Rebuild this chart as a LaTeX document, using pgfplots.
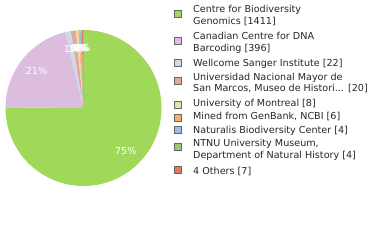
\documentclass[border=0pt]{standalone}
\usepackage{pgfplots}
\pgfplotsset{compat=1.18}
\usepackage{fontspec}
\setmainfont{DejaVu Sans}
\definecolor{c1}{HTML}{A0D95A}
\definecolor{c2}{HTML}{DCBDDF}
\definecolor{c3}{HTML}{CCDAE8}
\definecolor{c4}{HTML}{E3A89A}
\definecolor{c5}{HTML}{DCE8A6}
\definecolor{c6}{HTML}{F2B077}
\definecolor{c7}{HTML}{9DBDE3}
\definecolor{c8}{HTML}{9CC47A}
\definecolor{c9}{HTML}{E07A5F}
\newcommand{\lf}{\fontsize{9.6bp}{11bp}\selectfont}
\begin{document}
\begin{tikzpicture}
\path[use as bounding box] (0,0) rectangle (380bp,240bp);
\def\vals{1411,396,22,20,8,6,4,4,7}
\gdef\cum{0}
\foreach \v [count=\i] in \vals {
  \pgfmathsetmacro{\s}{90-\cum/1878*360}
  \pgfmathsetmacro{\newcum}{\cum+\v}
  \pgfmathsetmacro{\e}{90-\newcum/1878*360}
  \pgfmathsetmacro{\m}{(\s+\e)/2}
  \pgfmathtruncatemacro{\p}{round(\v/1878*100)}
  \expandafter\xdef\csname s\i\endcsname{\s}
  \expandafter\xdef\csname e\i\endcsname{\e}
  \expandafter\xdef\csname m\i\endcsname{\m}
  \expandafter\xdef\csname p\i\endcsname{\p}
  \xdef\cum{\newcum}
}
\begin{axis}[at={(0,0)}, anchor=south west, width=380bp, height=240bp,
  scale only axis, xmin=0, xmax=380, ymin=0, ymax=240, hide axis, clip=false]
\pgfplotsinvokeforeach{1,2,3,4,5,6,7,8,9}{
  \fill[c#1] (axis cs:83.5,132) -- ++(\csname s#1\endcsname:78bp)
    arc[start angle=\csname s#1\endcsname, end angle=\csname e#1\endcsname, radius=78bp] -- cycle;
}
\pgfplotsinvokeforeach{1,2,3,4,5,6,7,8,9}{
  \path (axis cs:83.5,132) ++(\csname m#1\endcsname:60bp)
    node[text=white, font=\fontsize{9.6bp}{11bp}\selectfont] {\csname p#1\endcsname\%};
}
\def\sq#1#2{\filldraw[fill=#1, draw=gray!80!black, line width=0.8bp] (axis cs:174.5,#2-3.5) rectangle (axis cs:181.5,#2+3.5);}
\sq{c1}{226.5}
\sq{c2}{199}
\sq{c3}{177.5}
\sq{c4}{159}
\sq{c5}{135.5}
\sq{c6}{122}
\sq{c7}{110.5}
\sq{c8}{93}
\sq{c9}{70}
\def\lt#1#2{\node[anchor=base west, inner sep=0pt, font=\lf, text=black!85] at (axis cs:193,#1) {#2};}
\lt{227.5}{Centre for Biodiversity}
\lt{215}{Genomics [1411]}
\lt{200.5}{Canadian Centre for DNA}
\lt{188}{Barcoding [396]}
\lt{173.5}{Wellcome Sanger Institute [22]}
\lt{159.5}{Universidad Nacional Mayor de}
\lt{148}{San Marcos, Museo de Histori... [20]}
\lt{133.5}{University of Montreal [8]}
\lt{120.5}{Mined from GenBank, NCBI [6]}
\lt{106.5}{Naturalis Biodiversity Center [4]}
\lt{93.5}{NTNU University Museum,}
\lt{81.5}{Department of Natural History [4]}
\lt{65.5}{4 Others [7]}
\end{axis}
\end{tikzpicture}
\end{document}
